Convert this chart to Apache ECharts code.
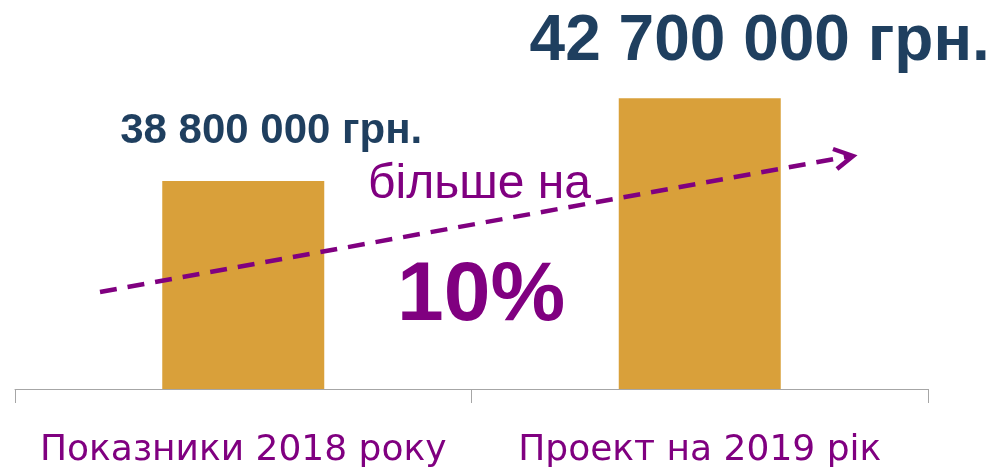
<!DOCTYPE html>
<html>
<head>
<meta charset="utf-8">
<script src="https://cdn.jsdelivr.net/npm/echarts@6/dist/echarts.min.js"></script>
<style>
  html, body { margin: 0; padding: 0; background: #fff; }
  #main { width: 996px; height: 473px; }
</style>
</head>
<body>
<div id="main"></div>
<script>
var categories = ['Показники 2018 року', 'Проект на 2019 рік'];
var values = [38800000, 42700000];
var growthCaption = 'більше на';
var growthPercent = '10%';

function fmtMoney(v) {
    return String(v).replace(/\B(?=(\d{3})+(?!\d))/g, ' ') + ' грн.';
}

var purple = '#800080';
var labelStyles = [
    { fontSize: 42, offset: [28, -24] },
    { fontSize: 64, offset: [60, -19] }
];

var myChart = echarts.init(document.getElementById('main'));

var option = {
    animation: false,
    grid: { left: 15, right: 68, top: 7, bottom: 84, outerBoundsMode: 'none' },
    xAxis: {
        type: 'category',
        data: categories,
        axisLine: { lineStyle: { color: '#a6a6a6', width: 1 } },
        axisTick: { show: true, interval: 0, length: 14, lineStyle: { color: '#a6a6a6' } },
        axisLabel: {
            interval: 0,
            hideOverlap: false,
            color: purple,
            fontFamily: 'DejaVu Sans',
            fontSize: 36,
            margin: 44
        }
    },
    yAxis: {
        type: 'value',
        show: false,
        min: 29000000,
        max: 47000000,
        splitLine: { show: false }
    },
    series: [{
        type: 'bar',
        barWidth: 162,
        itemStyle: { color: '#d9a03a' },
        data: values.map(function (v, i) {
            return {
                value: v,
                label: {
                    show: true,
                    position: 'top',
                    formatter: function (p) { return fmtMoney(p.value); },
                    color: '#1f3f5f',
                    fontFamily: 'Liberation Sans',
                    fontWeight: 'bold',
                    fontSize: labelStyles[i].fontSize,
                    offset: labelStyles[i].offset
                }
            };
        })
    }],
    graphic: [
        {
            type: 'polyline',
            z: 100,
            shape: { points: [[100, 292], [851, 156]] },
            style: { stroke: purple, lineWidth: 4.5, lineDash: [17, 11], fill: null }
        },
        {
            type: 'polyline',
            z: 100,
            shape: { points: [[833, 149], [853, 156], [837, 169]] },
            style: { stroke: purple, lineWidth: 4.5, fill: null }
        },
        {
            type: 'text',
            z: 100,
            left: 368,
            top: 161,
            style: {
                text: growthCaption,
                fill: purple,
                font: '48px "Liberation Sans"'
            }
        },
        {
            type: 'text',
            z: 100,
            left: 397,
            top: 255,
            style: {
                text: growthPercent,
                fill: purple,
                font: 'bold 84px "Liberation Sans"'
            }
        }
    ]
};

myChart.setOption(option);
window.addEventListener('resize', function () {
    myChart.resize();
});
</script>
</body>
</html>
